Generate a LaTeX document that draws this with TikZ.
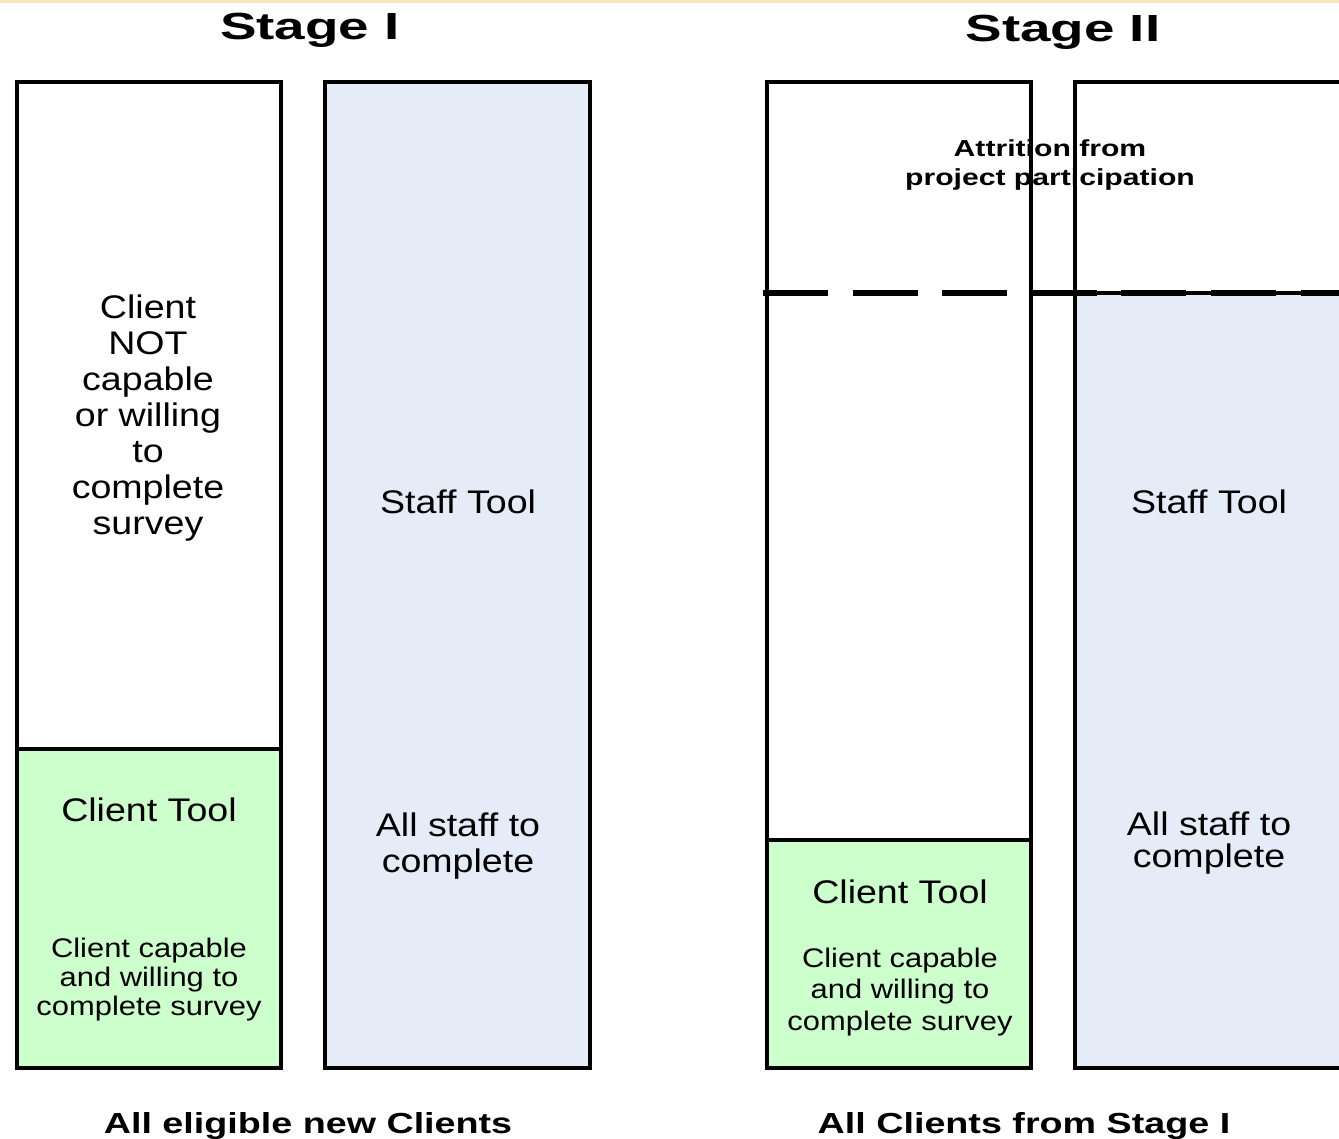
\documentclass[tikz,border=0pt]{standalone}
\usepackage{fontspec}
\setmainfont[FakeStretch=1.15]{Liberation Sans}
\newfontfamily\titlefont[FakeStretch=1.45]{Liberation Sans}
\newfontfamily\capfont[FakeStretch=1.3]{Liberation Sans}
\usetikzlibrary{positioning}
\definecolor{toolgreen}{RGB}{204,255,204}
\definecolor{staffblue}{RGB}{230,235,248}
\definecolor{topline}{RGB}{250,228,190}

\begin{document}
\begin{tikzpicture}[x=0.02cm,y=-0.02cm,
    bar/.style={draw=black,line width=1.8pt},
    lbl/.style={align=center,font=\fontsize{18.6}{20.5}\selectfont},
    small/.style={align=center,font=\fontsize{15.3}{16.5}\selectfont},
    stagetitle/.style={anchor=base,font=\titlefont\fontsize{21.5}{26}\selectfont\bfseries},
    caption/.style={anchor=base,font=\capfont\fontsize{16.5}{20}\selectfont\bfseries}]

    \clip (0,0) rectangle (1339,1139);
    \fill[white] (0,0) rectangle (1339,1139);
    \draw[topline,line width=2pt] (0,1) -- (1339,1);

    % Stage I
    \node[stagetitle] (stageone) at (310,39) {Stage I};
    \draw[bar] (17,82) rectangle (281,1068);
    \draw[bar,fill=toolgreen] (17,749) rectangle (281,1068);
    \draw[bar,fill=staffblue] (325,82) rectangle (590,1068);

    \node[lbl] (notcapable) at (148,418)
        {Client\\NOT\\capable\\or willing\\to\\complete\\survey};
    \node[lbl] (clienttoolone) at (149,810) {Client Tool};
    \node[small] (capableone) at (149,980) {Client capable\\and willing to\\complete survey};
    \node[lbl] (stafftoolone) at (458,502) {Staff Tool};
    \node[lbl,font=\fontsize{18.6}{21}\selectfont] (allstaffone) at (458,846) {All staff to\\complete};
    \node[caption] (captionone) at (308,1133) {All eligible new Clients};

    % Stage II
    \node[stagetitle] (stagetwo) at (1063,41) {Stage II};
    \node[align=center,font=\capfont\fontsize{13.2}{16.5}\selectfont\bfseries] (attrition) at (1050,165)
        {Attrition from\\project participation};
    \draw[bar] (767,82) rectangle (1031,1068);
    \draw[bar,fill=toolgreen] (767,840) rectangle (1031,1068);
    \draw[bar] (1075,82) rectangle (1360,1068);
    \draw[bar,fill=staffblue] (1075,293) rectangle (1360,1068);
    \draw[black,line width=3pt,dash pattern=on 37pt off 14pt] (763,293) -- (1339,293);

    \node[lbl] (clienttooltwo) at (900,892) {Client Tool};
    \node[small,font=\fontsize{15.3}{17.8}\selectfont] (capabletwo) at (900,992) {Client capable\\and willing to\\complete survey};
    \node[lbl] (stafftooltwo) at (1209,502) {Staff Tool};
    \node[lbl,font=\fontsize{18.6}{18.3}\selectfont] (allstafftwo) at (1209,843) {All staff to\\complete};
    \node[caption] (captiontwo) at (1024,1133) {All Clients from Stage I};
\end{tikzpicture}
\end{document}
